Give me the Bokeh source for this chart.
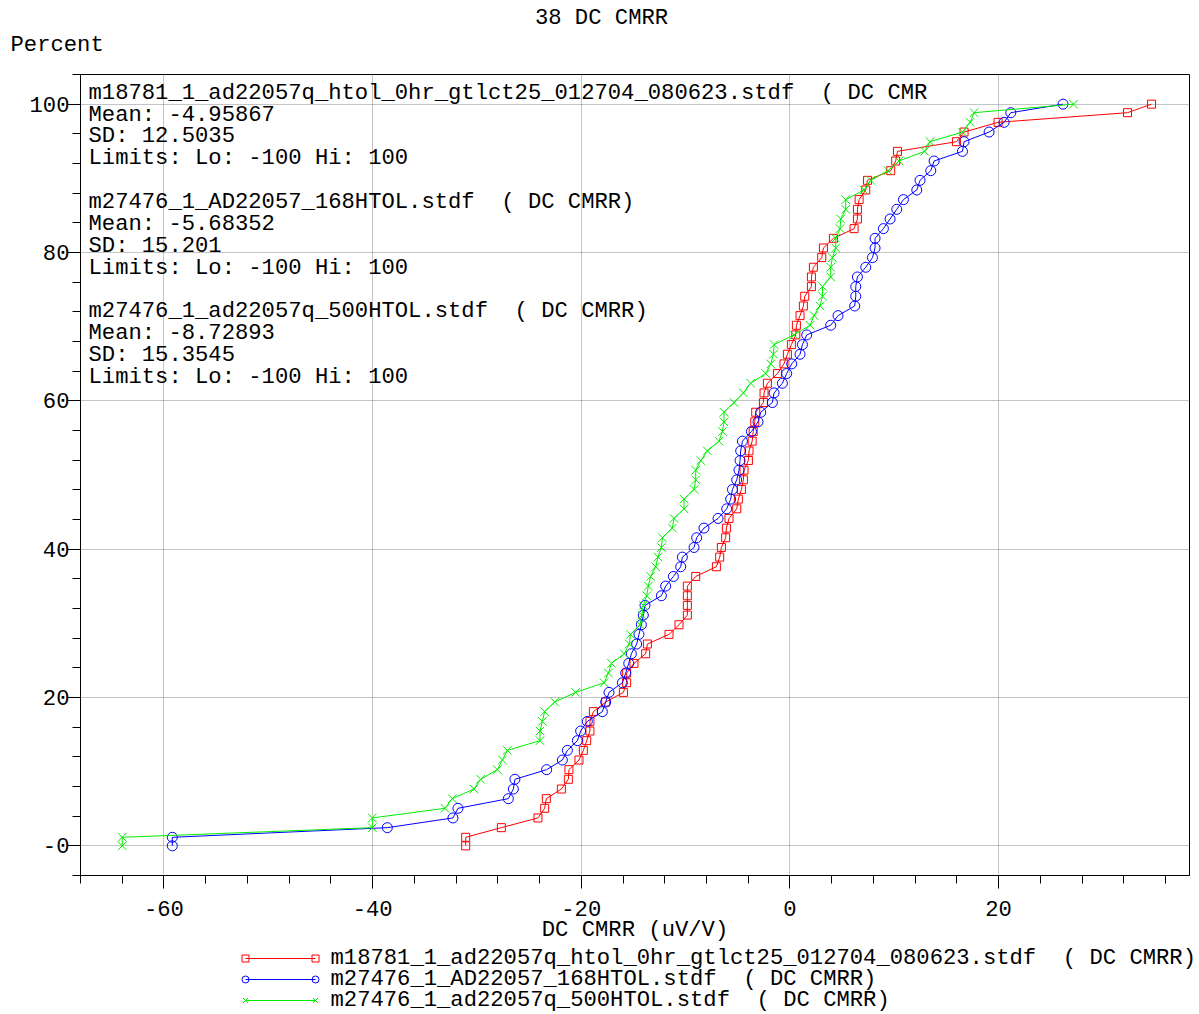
from bokeh.plotting import figure
from bokeh.models import Range1d, FixedTicker
from bokeh.layouts import column
from bokeh.embed import file_html
from bokeh.resources import INLINE
from bokeh.core.properties import value

FONT = "Liberation Mono"
FS = "22.2px"
GAP = "\u00a0\u00a0"  # two non-collapsing spaces

# cumulative percent rank of each sorted sample (78 parts per lot)
pct = [0.00, 1.15, 2.45, 3.76, 5.06, 6.36, 7.66, 8.97, 10.27, 11.57,
       12.87, 14.18, 15.48, 16.78, 18.09, 19.39, 20.69, 21.99, 23.30, 24.60,
       25.90, 27.21, 28.51, 29.81, 31.11, 32.42, 33.72, 35.02, 36.32, 37.63,
       38.93, 40.23, 41.54, 42.84, 44.14, 45.44, 46.75, 48.05, 49.35, 50.65,
       51.95, 53.25, 54.56, 55.86, 57.16, 58.46, 59.77, 61.07, 62.37, 63.68,
       64.98, 66.28, 67.58, 68.89, 70.19, 71.49, 72.79, 74.10, 75.40, 76.70,
       78.01, 79.31, 80.61, 81.91, 83.22, 84.52, 85.82, 87.13, 88.43, 89.73,
       91.03, 92.34, 93.64, 94.94, 96.24, 97.55, 98.85, 100.00]

# DC CMRR (uV/V), sorted, per lot
lot_0hr = [-31.08, -31.08, -27.66, -24.15, -23.51, -23.35, -21.91, -21.24, -21.18, -20.22,
           -19.80, -19.48, -19.17, -19.17, -18.84, -17.66, -15.96, -15.65, -15.65, -14.95,
           -13.83, -13.66, -11.59, -10.63, -9.83, -9.83, -9.83, -9.83, -9.03, -7.05,
           -6.73, -6.57, -6.16, -6.09, -5.84, -5.10, -4.94, -4.65, -4.46, -4.40,
           -3.98, -3.92, -3.62, -3.52, -3.37, -3.28, -2.54, -2.48, -2.16, -1.20,
           -0.57, -0.24, 0.14, 0.56, 0.62, 0.97, 1.29, 1.42, 2.06, 2.06,
           2.25, 3.05, 3.21, 4.17, 6.15, 6.47, 6.47, 6.63, 7.27, 7.43,
           9.66, 10.14, 10.31, 15.96, 16.69, 19.95, 32.36, 34.66]

lot_168hr = [-59.20, -59.20, -38.59, -32.30, -31.82, -26.99, -26.51, -26.36, -23.32, -21.81,
             -21.33, -20.37, -20.06, -19.42, -17.98, -17.66, -17.34, -16.06, -15.74, -15.45,
             -15.20, -14.69, -14.47, -14.24, -14.05, -13.89, -12.32, -11.91, -11.17, -10.47,
             -10.31, -9.19, -8.94, -8.24, -6.89, -6.06, -5.68, -5.51, -5.10, -4.88,
             -4.78, -4.72, -4.55, -3.69, -3.06, -2.80, -1.68, -1.52, -0.72, -0.31,
             0.17, 0.97, 1.20, 1.61, 3.91, 4.61, 6.21, 6.31, 6.31, 6.47,
             7.27, 7.91, 8.16, 8.16, 8.96, 9.60, 10.24, 10.88, 12.16, 12.47,
             13.50, 13.82, 16.54, 16.69, 19.09, 20.53, 21.17, 26.18]

lot_500hr = [-64.00, -64.00, -40.03, -40.03, -33.07, -32.36, -30.29, -29.65, -28.04, -27.56,
             -27.09, -23.96, -23.96, -23.73, -23.51, -22.55, -20.54, -17.82, -17.40, -17.10,
             -15.88, -15.40, -15.28, -14.37, -14.19, -14.05, -13.73, -13.57, -13.35, -12.87,
             -12.65, -12.32, -12.22, -11.27, -11.11, -10.15, -10.15, -9.19, -9.03, -9.03,
             -8.55, -7.91, -6.80, -6.47, -6.32, -6.32, -5.36, -4.46, -3.76, -2.32,
             -1.84, -1.58, -1.52, 0.39, 1.93, 2.31, 2.89, 3.12, 3.12, 3.91,
             3.91, 4.07, 4.39, 4.39, 4.80, 4.87, 5.35, 5.35, 7.10, 7.75,
             9.41, 10.46, 12.92, 13.43, 16.54, 17.27, 17.65, 27.18]

file_names = ["m18781_1_ad22057q_htol_0hr_gtlct25_012704_080623.stdf",
              "m27476_1_AD22057_168HTOL.stdf",
              "m27476_1_ad22057q_500HTOL.stdf"]
means = ["-4.95867", "-5.68352", "-8.72893"]
sds = ["12.5035", "15.201", "15.3545"]
limits = "Limits: Lo: -100 Hi: 100"

x_major = [-60, -40, -20, 0, 20]
x_minor = list(range(-68, 40, 4))
y_major = [0, 20, 40, 60, 80, 100]
y_minor = list(range(-4, 108, 4))

series = [
    (lot_0hr, "#ff0000", "square", 8),
    (lot_168hr, "#0000ff", "circle", 10),
    (lot_500hr, "#00ee00", "x", 12),
]

W = 1199
HEAD_H = 74
FRAME_H = 801
LEFT, RIGHT = 80, 10
BOTTOM = 71
FOOT_H = 1014 - HEAD_H - FRAME_H - BOTTOM
XMIN, XMAX = -68.0, 38.3


def bare(height):
    f = figure(width=W, height=height, x_range=Range1d(0, W), y_range=Range1d(height, 0),
               x_axis_type=None, y_axis_type=None, output_backend="svg",
               toolbar_location=None, min_border=0)
    f.outline_line_color = None
    f.frame_align = False
    return f


txt = dict(text_font=value(FONT), text_font_size=FS, text_color="black",
           text_baseline="middle")

# header: title and y-axis caption
head = bare(HEAD_H)
head.text(x=[601], y=[18], text=["38 DC CMRR"], text_align="center", **txt)
head.text(x=[10], y=[45], text=["Percent"], text_align="left", **txt)

# main plot
p = figure(width=W, height=FRAME_H + BOTTOM, x_range=Range1d(XMIN, XMAX),
           y_range=Range1d(-4, 104), output_backend="svg", toolbar_location=None,
           min_border_left=LEFT, min_border_right=RIGHT, min_border_top=0,
           min_border_bottom=BOTTOM)
p.outline_line_color = "black"
p.outline_line_width = 1

p.xaxis.ticker = FixedTicker(ticks=x_major, minor_ticks=x_minor)
p.yaxis.ticker = FixedTicker(ticks=y_major, minor_ticks=y_minor)
p.xaxis.major_label_overrides = {t: str(t) for t in x_major}
p.yaxis.major_label_overrides = {t: ("-0" if t == 0 else str(t)) for t in y_major}
for ax in (p.xaxis, p.yaxis):
    ax.axis_line_color = "black"
    ax.major_tick_line_color = "black"
    ax.minor_tick_line_color = "black"
    ax.major_tick_in = 0
    ax.minor_tick_in = 0
    ax.major_tick_out = 13
    ax.minor_tick_out = 8
    ax.major_label_text_font = FONT
    ax.major_label_text_font_size = FS
    ax.major_label_text_color = "black"
p.xaxis.major_label_standoff = 12
p.yaxis.major_label_standoff = -2
p.xaxis.axis_label = "DC CMRR (uV/V)"
p.xaxis.axis_label_text_font = FONT
p.xaxis.axis_label_text_font_size = FS
p.xaxis.axis_label_text_font_style = "normal"
p.xaxis.axis_label_text_color = "black"
p.xaxis.axis_label_standoff = -1

p.grid.grid_line_color = "#888888"
p.grid.grid_line_dash = "1 1"
p.grid.grid_line_width = 1

# summary text block in the upper-left corner
lines = []
for i, name in enumerate(file_names):
    head_line = name + GAP + "( DC CMRR)"
    if i == 0:
        head_line = head_line[:-2]
    lines += [head_line, "Mean: " + means[i], "SD: " + sds[i], limits]
    if i < len(file_names) - 1:
        lines.append("")
line_step = 21.85 / 7.41
ys = [101.48 - k * line_step for k in range(len(lines))]
p.text(x=[-67.23] * len(lines), y=ys, text=lines, text_align="left", **txt)

for xs, color, marker, size in series:
    p.line(xs, pct, line_color=color, line_width=1)
    p.scatter(xs, pct, marker=marker, size=size, line_color=color,
              fill_color=None, line_width=1)

# footer: legend
foot = bare(FOOT_H)
top = HEAD_H + FRAME_H + BOTTOM
row_y = [958 - top, 979 - top, 1000 - top]
for (xs, color, marker, size), name, yy in zip(series, file_names, row_y):
    foot.line([245, 315], [yy, yy], line_color=color, line_width=1)
    foot.scatter([245, 315], [yy, yy], marker=marker, size=7, line_color=color,
                 fill_color=None, line_width=1)
    foot.text(x=[330], y=[yy], text=[name + GAP + "( DC CMRR)"], text_align="left", **txt)

layout = column(head, p, foot, spacing=0)
open("out.html", "w").write(file_html(layout, INLINE))
